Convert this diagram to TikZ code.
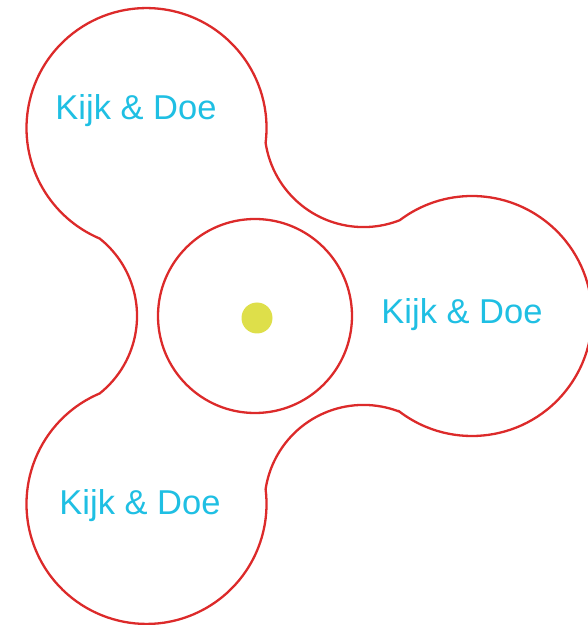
\documentclass[tikz,border=0pt]{standalone}
\usepackage{fontspec}
\setmainfont{Liberation Sans}
\usetikzlibrary{calc}
\definecolor{blobred}{HTML}{DC2A2A}
\definecolor{kijkblue}{HTML}{1FBFE3}
\definecolor{dotyellow}{HTML}{DEDF4A}
\tikzset{
  outline/.style={draw=blobred, line width=2.3pt},
  kijk/.style={text=kijkblue, font=\fontsize{34.5}{40}\selectfont, inner sep=0pt, anchor=base}
}
\begin{document}
\begin{tikzpicture}[x=1pt, y=1pt]
  \useasboundingbox (0,0) rectangle (588,625);
  \coordinate (O) at (255,309);
  % Outer blob: three lobes joined by hollow arcs
  \draw[outline] ($(O)+(0:217)+(-127.04:120)$)
    arc[start angle=-127.04, end angle=127.04, radius=120pt] % right lobe
    arc[start angle=291.46, end angle=188.54, radius=99pt]
    arc[start angle=-7.04, end angle=247.04, radius=120pt]   % top lobe
    arc[start angle=51.46, end angle=-51.46, radius=99pt]
    arc[start angle=112.96, end angle=367.04, radius=120pt]  % bottom lobe
    arc[start angle=171.46, end angle=68.54, radius=99pt]
    -- cycle;
  % Hub with dot
  \node[outline, circle, minimum size=194pt, inner sep=0pt] (hub) at (O) {};
  \node[circle, fill=dotyellow, minimum size=31pt, inner sep=0pt] (dot) at (257,307) {};
  % Labels
  \node[kijk] (kijkTop) at (136,505.4) {Kijk \& Doe};
  \node[kijk] (kijkRight) at (462,301.4) {Kijk \& Doe};
  \node[kijk] (kijkBottom) at (140,110) {Kijk \& Doe};
\end{tikzpicture}
\end{document}
